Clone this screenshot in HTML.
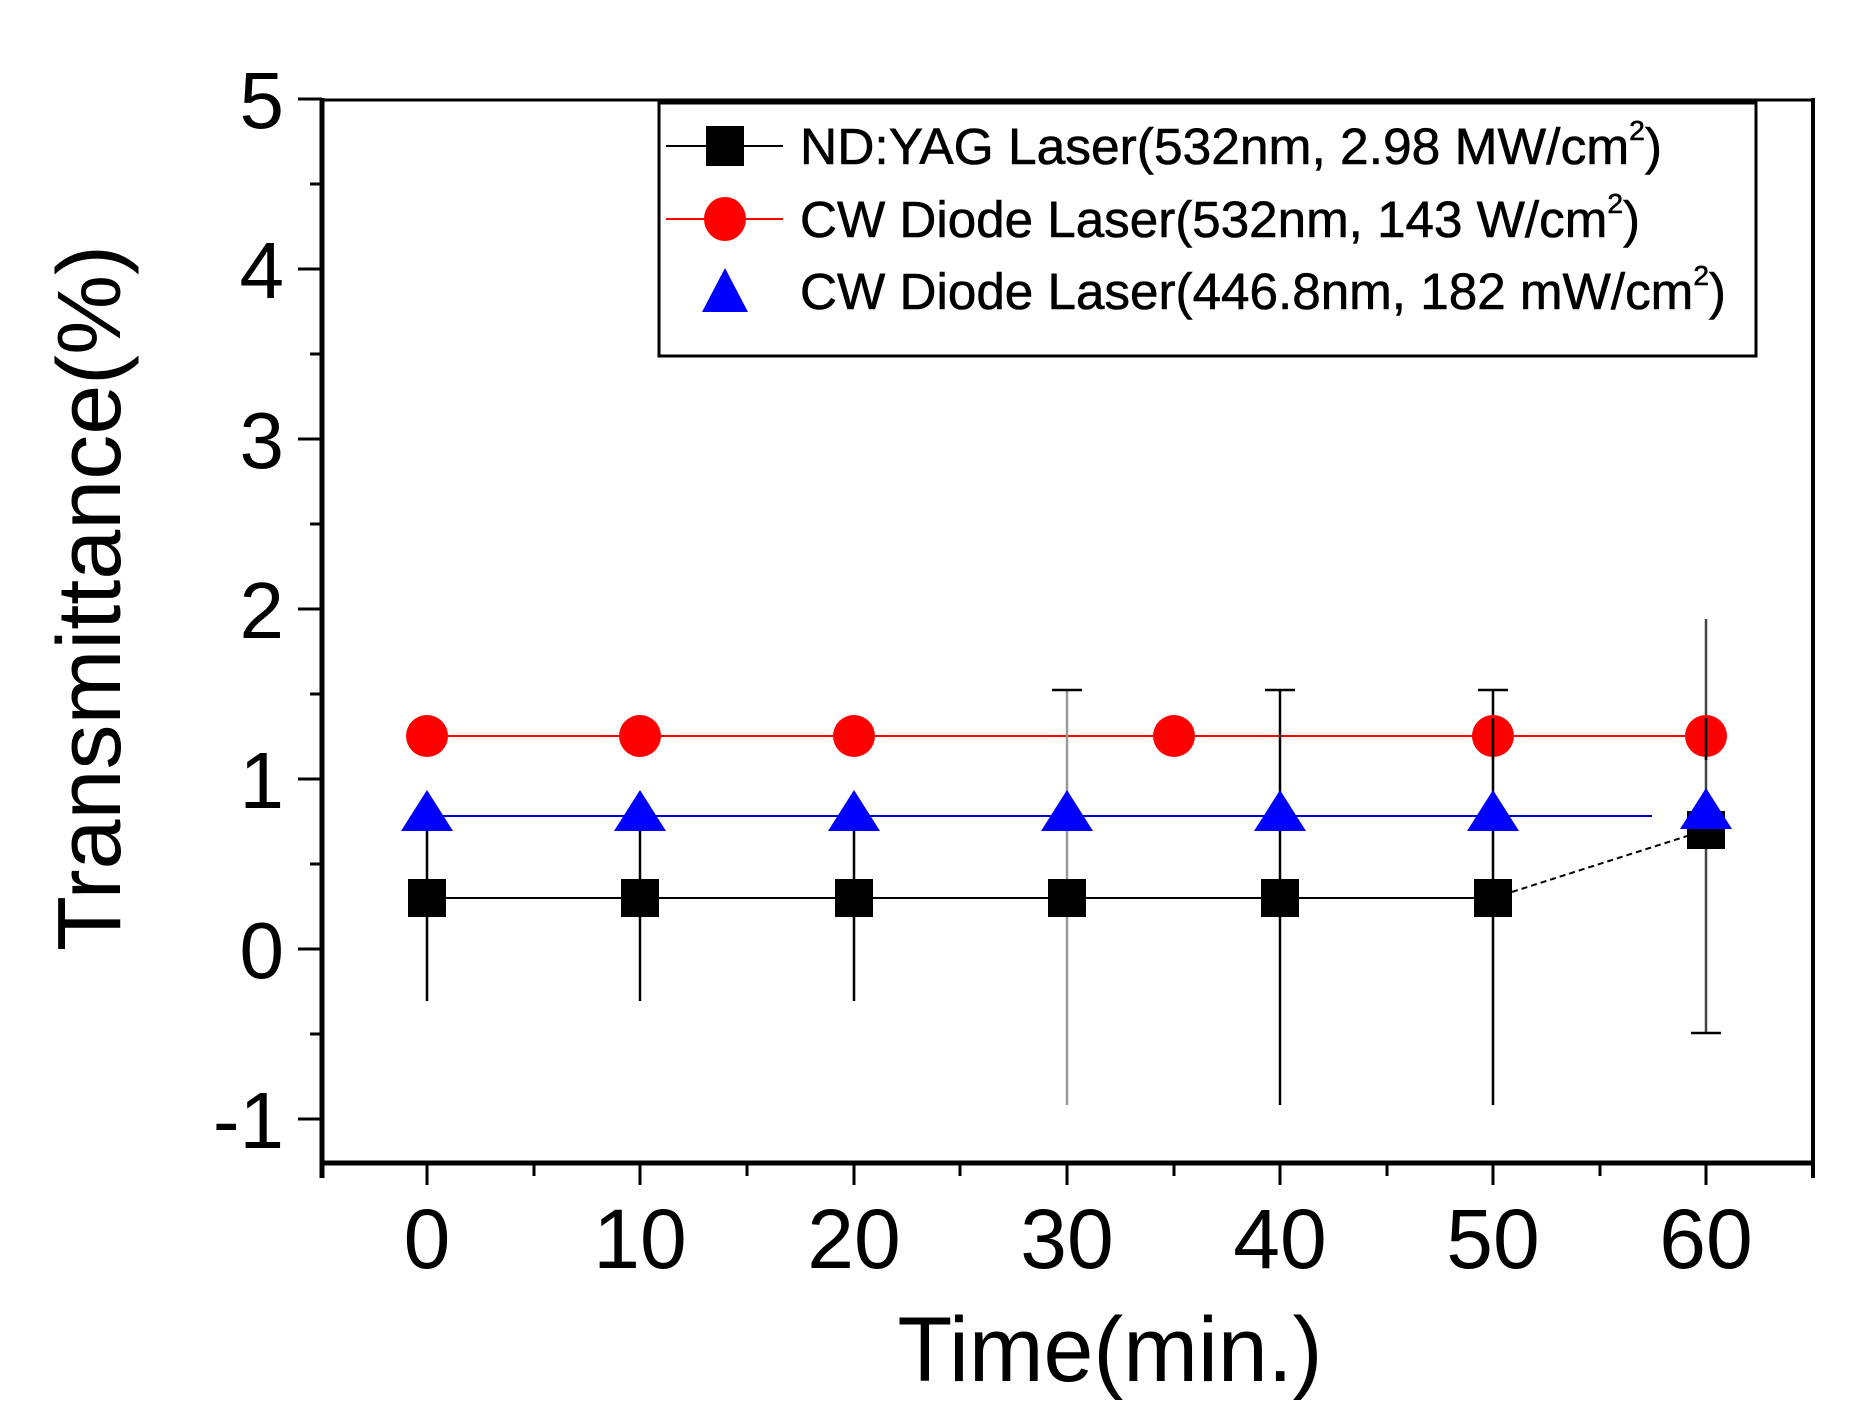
<!DOCTYPE html>
<html><head><meta charset="utf-8"><style>html,body{margin:0;padding:0;background:#fff}svg{display:block}</style></head>
<body>
<svg width="1875" height="1423" viewBox="0 0 1875 1423" xmlns="http://www.w3.org/2000/svg" font-family="Liberation Sans, Arial, sans-serif">
<rect width="1875" height="1423" fill="#fff"/>
<line x1="322" y1="100" x2="1813" y2="100" stroke="#000" stroke-width="3"/>
<line x1="1813" y1="98" x2="1813" y2="1178" stroke="#000" stroke-width="4"/>
<line x1="322" y1="98" x2="322" y2="1178" stroke="#000" stroke-width="5"/>
<line x1="320" y1="1163" x2="1815" y2="1163" stroke="#000" stroke-width="5"/>
<g stroke="#000" stroke-width="3">
<line x1="298" y1="99" x2="322" y2="99"/><line x1="310" y1="184" x2="322" y2="184"/>
<line x1="298" y1="269" x2="322" y2="269"/><line x1="310" y1="354" x2="322" y2="354"/>
<line x1="298" y1="439" x2="322" y2="439"/><line x1="310" y1="524" x2="322" y2="524"/>
<line x1="298" y1="609" x2="322" y2="609"/><line x1="310" y1="694" x2="322" y2="694"/>
<line x1="298" y1="779" x2="322" y2="779"/><line x1="310" y1="864" x2="322" y2="864"/>
<line x1="298" y1="949" x2="322" y2="949"/><line x1="310" y1="1034" x2="322" y2="1034"/>
<line x1="298" y1="1119" x2="322" y2="1119"/>
</g>
<g stroke="#000" stroke-width="3">
<line x1="427" y1="1163" x2="427" y2="1185"/><line x1="534" y1="1163" x2="534" y2="1176"/>
<line x1="640" y1="1163" x2="640" y2="1185"/><line x1="747" y1="1163" x2="747" y2="1176"/>
<line x1="854" y1="1163" x2="854" y2="1185"/><line x1="960" y1="1163" x2="960" y2="1176"/>
<line x1="1067" y1="1163" x2="1067" y2="1185"/><line x1="1174" y1="1163" x2="1174" y2="1176"/>
<line x1="1280" y1="1163" x2="1280" y2="1185"/><line x1="1387" y1="1163" x2="1387" y2="1176"/>
<line x1="1493" y1="1163" x2="1493" y2="1185"/><line x1="1600" y1="1163" x2="1600" y2="1176"/>
<line x1="1706" y1="1163" x2="1706" y2="1185"/>
</g>
<g font-size="80" text-anchor="end" fill="#000">
<text x="284" y="128">5</text><text x="284" y="298">4</text><text x="284" y="468">3</text>
<text x="284" y="638">2</text><text x="284" y="808">1</text><text x="284" y="978">0</text>
<text x="284" y="1148">-1</text>
</g>
<g font-size="84" text-anchor="middle" fill="#000">
<text x="427" y="1268">0</text><text x="640" y="1268">10</text><text x="854" y="1268">20</text>
<text x="1067" y="1268">30</text><text x="1280" y="1268">40</text><text x="1493" y="1268">50</text>
<text x="1706" y="1268">60</text>
</g>
<text x="1110" y="1381" font-size="92" text-anchor="middle" textLength="425" lengthAdjust="spacingAndGlyphs">Time(min.)</text>
<text transform="translate(120,598) rotate(-90)" font-size="90" text-anchor="middle" textLength="706" lengthAdjust="spacingAndGlyphs">Transmittance(%)</text>
<line x1="427" y1="736" x2="1706" y2="736" stroke="#f00" stroke-width="2"/>
<line x1="427" y1="816" x2="1652" y2="816" stroke="#00c" stroke-width="2"/>
<line x1="427" y1="898" x2="1493" y2="898" stroke="#000" stroke-width="2"/>
<line x1="1493" y1="898" x2="1706" y2="830" stroke="#000" stroke-width="2" stroke-dasharray="6,4"/>
<g stroke="#000" stroke-width="2.5">
<line x1="427" y1="792" x2="427" y2="1001"/><line x1="640" y1="792" x2="640" y2="1001"/><line x1="854" y1="792" x2="854" y2="1001"/>
<line x1="1067" y1="690" x2="1067" y2="1105" stroke="#999"/><line x1="1052" y1="690" x2="1082" y2="690"/>
<line x1="1280" y1="690" x2="1280" y2="1105"/><line x1="1265" y1="690" x2="1295" y2="690"/>
<line x1="1493" y1="690" x2="1493" y2="1105"/><line x1="1478" y1="690" x2="1508" y2="690"/>
<line x1="1706" y1="619" x2="1706" y2="1033" stroke="#444"/><line x1="1691" y1="1033" x2="1721" y2="1033"/>
</g>
<g fill="#000">
<rect x="408" y="879" width="38" height="38"/><rect x="621" y="879" width="38" height="38"/>
<rect x="835" y="879" width="38" height="38"/><rect x="1048" y="879" width="38" height="38"/>
<rect x="1261" y="879" width="38" height="38"/><rect x="1474" y="879" width="38" height="38"/>
<rect x="1687" y="811" width="38" height="38"/>
</g>
<g fill="#f00">
<ellipse cx="427" cy="736" rx="21" ry="21"/><ellipse cx="640" cy="736" rx="21" ry="21"/>
<ellipse cx="854" cy="736" rx="21" ry="21"/><ellipse cx="1174" cy="736" rx="21" ry="21"/>
<ellipse cx="1493" cy="736" rx="21" ry="21"/><ellipse cx="1706" cy="736" rx="21" ry="21"/>
</g>
<g stroke="#000" stroke-width="2.5"><line x1="1493" y1="718" x2="1493" y2="760"/><line x1="1706" y1="718" x2="1706" y2="760"/></g>
<g fill="#00f">
<polygon points="427,790 453,831 401,831"/><polygon points="640,790 666,831 614,831"/>
<polygon points="854,790 880,831 828,831"/><polygon points="1067,790 1093,831 1041,831"/>
<polygon points="1280,790 1306,831 1254,831"/><polygon points="1493,790 1519,831 1467,831"/>
<polygon points="1706,788 1732,829 1680,829"/>
</g>
<rect x="659" y="103" width="1097" height="253" fill="#fff" stroke="#000" stroke-width="3"/>
<line x1="666" y1="146" x2="783" y2="146" stroke="#000" stroke-width="2"/>
<rect x="706" y="126" width="38" height="40" fill="#000"/>
<line x1="666" y1="219" x2="783" y2="219" stroke="#f00" stroke-width="2"/>
<ellipse cx="725" cy="219" rx="21" ry="22" fill="#f00"/>
<polygon points="725,268 748,312 702,312" fill="#00f"/>
<g font-size="51" fill="#000" stroke="#000" stroke-width="0.6">
<text x="800" y="164" textLength="862" lengthAdjust="spacingAndGlyphs">ND:YAG Laser(532nm, 2.98 MW/cm<tspan font-size="28" dy="-24">2</tspan><tspan dy="24">)</tspan></text>
<text x="800" y="237" textLength="840" lengthAdjust="spacingAndGlyphs">CW Diode Laser(532nm, 143 W/cm<tspan font-size="28" dy="-24">2</tspan><tspan dy="24">)</tspan></text>
<text x="800" y="309" textLength="926" lengthAdjust="spacingAndGlyphs">CW Diode Laser(446.8nm, 182 mW/cm<tspan font-size="28" dy="-24">2</tspan><tspan dy="24">)</tspan></text>
</g>
</svg>
</body></html>
